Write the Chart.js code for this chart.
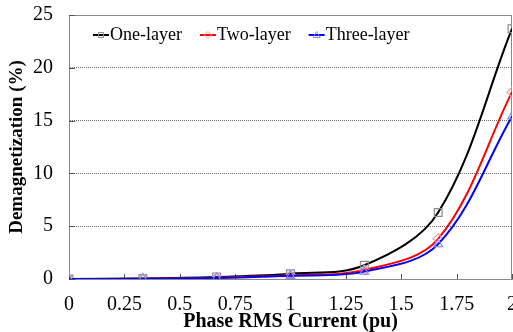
<!DOCTYPE html>
<html>
<head>
<meta charset="utf-8">
<script src="https://cdn.jsdelivr.net/npm/chart.js@4.4.1/dist/chart.umd.min.js"></script>
<style>
  html, body { margin: 0; padding: 0; background: #fff; }
  #wrap { width: 513px; height: 332px; }
</style>
</head>
<body>
<div id="wrap"><canvas id="demagChart" width="513" height="332"></canvas></div>
<script>
// Phase RMS current (pu) where each case was simulated
const currents = [0, 1/3, 2/3, 1, 4/3, 5/3, 2];

// Demagnetization (%)
const oneLayer   = [0, 0.05, 0.2, 0.5, 1.3, 6.3, 23.7];
const twoLayer   = [0, 0.03, 0.12, 0.35, 0.85, 3.8, 17.7];
const threeLayer = [0, 0.02, 0.1, 0.3, 0.7, 3.3, 15.4];

const seriesNames = ['One-layer', 'Two-layer', 'Three-layer'];
const lineColors = ['#000000', '#ff0000', '#0000ff'];
const markerColors = ['#8c8c8c', '#f59a9a', '#8a8aff'];
const markerStyles = ['rect', 'rectRot', 'triangle'];

const serif = "'Liberation Serif', 'Times New Roman', serif";

function toPoints(values) {
  return values.map((v, i) => ({ x: currents[i], y: v }));
}

function drawMarker(g, i, cx, cy, r) {
  g.beginPath();
  if (i === 0) {
    g.rect(cx - r, cy - r, 2 * r, 2 * r);
  } else if (i === 1) {
    g.moveTo(cx, cy - r - 1); g.lineTo(cx + r + 1, cy); g.lineTo(cx, cy + r + 1); g.lineTo(cx - r - 1, cy); g.closePath();
  } else {
    g.moveTo(cx, cy - r - 1); g.lineTo(cx + r + 1, cy + r); g.lineTo(cx - r - 1, cy + r); g.closePath();
  }
  g.stroke();
}

// legend sits inside the plot, one row, like the Excel original
const insideLegend = {
  id: 'insideLegend',
  afterDraw(chart) {
    const { ctx, chartArea: a } = chart;
    ctx.save();
    ctx.font = '18px ' + serif;
    ctx.textBaseline = 'middle';
    let x = a.left + 24;
    const y = a.top + 20;
    seriesNames.forEach((name, i) => {
      ctx.strokeStyle = lineColors[i];
      ctx.lineWidth = 2;
      ctx.beginPath(); ctx.moveTo(x, y); ctx.lineTo(x + 16, y); ctx.stroke();
      ctx.strokeStyle = markerColors[i];
      ctx.lineWidth = 1;
      drawMarker(ctx, i, x + 8, y, 2.5);
      ctx.fillStyle = '#000';
      ctx.fillText(name, x + 17, y);
      x += 17 + ctx.measureText(name).width + 18;
    });
    ctx.restore();
  }
};

// box around the plot and inward tick marks
const framePlugin = {
  id: 'frame',
  beforeDatasetsDraw(chart) {
    const { ctx, chartArea: a, scales } = chart;
    ctx.save();
    ctx.strokeStyle = '#8a8a8a';
    ctx.lineWidth = 1;
    ctx.strokeRect(a.left + 0.5, a.top + 0.5, a.right - a.left - 1, a.bottom - a.top);
    ctx.strokeStyle = '#555';
    ctx.beginPath();
    scales.x.ticks.forEach(t => {
      const px = Math.round(scales.x.getPixelForValue(t.value)) + 0.5;
      ctx.moveTo(px, a.bottom);
      ctx.lineTo(px, a.bottom - 5);
    });
    scales.y.ticks.forEach(t => {
      const py = Math.round(scales.y.getPixelForValue(t.value)) + 0.5;
      ctx.moveTo(a.left, py);
      ctx.lineTo(a.left + 6, py);
    });
    ctx.stroke();
    ctx.restore();
  }
};

const datasets = [oneLayer, twoLayer, threeLayer].map((vals, i) => ({
  label: seriesNames[i],
  data: toPoints(vals),
  borderColor: lineColors[i],
  backgroundColor: lineColors[i],
  borderWidth: 2,
  tension: 0.35,
  pointStyle: markerStyles[i],
  pointRadius: i === 0 ? 5.5 : 5,
  pointBorderColor: markerColors[i],
  pointBackgroundColor: 'rgba(0,0,0,0)',
  pointBorderWidth: 1.2,
  order: 2 - i
}));

new Chart(document.getElementById('demagChart'), {
  type: 'line',
  data: { datasets },
  plugins: [framePlugin, insideLegend],
  options: {
    responsive: false,
    animation: false,
    layout: { autoPadding: false, padding: { top: 15, right: 1, left: 0, bottom: 0 } },
    plugins: {
      tooltip: { enabled: false },
      legend: { display: false }
    },
    scales: {
      x: {
        type: 'linear',
        min: 0,
        max: 2,
        afterFit(scale) {
          scale.height = 53;
          scale.paddingLeft = 0;
          scale.paddingRight = 0;
        },
        ticks: {
          stepSize: 0.25,
          padding: 14,
          color: '#000',
          maxRotation: 0,
          autoSkip: false,
          font: { family: serif, size: 20 },
          callback: v => String(+v.toFixed(2))
        },
        grid: { display: false, drawTicks: false },
        border: { color: '#8a8a8a' },
        title: {
          display: true,
          text: 'Phase RMS Current (pu)',
          color: '#000',
          padding: { top: 0, bottom: -2 },
          font: { family: serif, size: 20, weight: 'bold' }
        }
      },
      y: {
        min: 0,
        max: 25,
        afterFit(scale) {
          scale.width = 69;
          scale.paddingTop = 0;
          scale.paddingBottom = 0;
        },
        ticks: {
          stepSize: 5,
          padding: 16,
          color: '#000',
          font: { family: serif, size: 20 }
        },
        grid: {
          drawTicks: false,
          color: ctx => (ctx.tick.value === 0 || ctx.tick.value === 25) ? 'rgba(0,0,0,0)' : '#6e6e6e',
          lineWidth: 1
        },
        border: { color: '#8a8a8a', dash: [1, 1] },
        title: {
          display: true,
          text: 'Demagnetization (%)',
          color: '#000',
          padding: { top: 6, bottom: 0 },
          font: { family: serif, size: 19, weight: 'bold' }
        }
      }
    }
  }
});
</script>
</body>
</html>
